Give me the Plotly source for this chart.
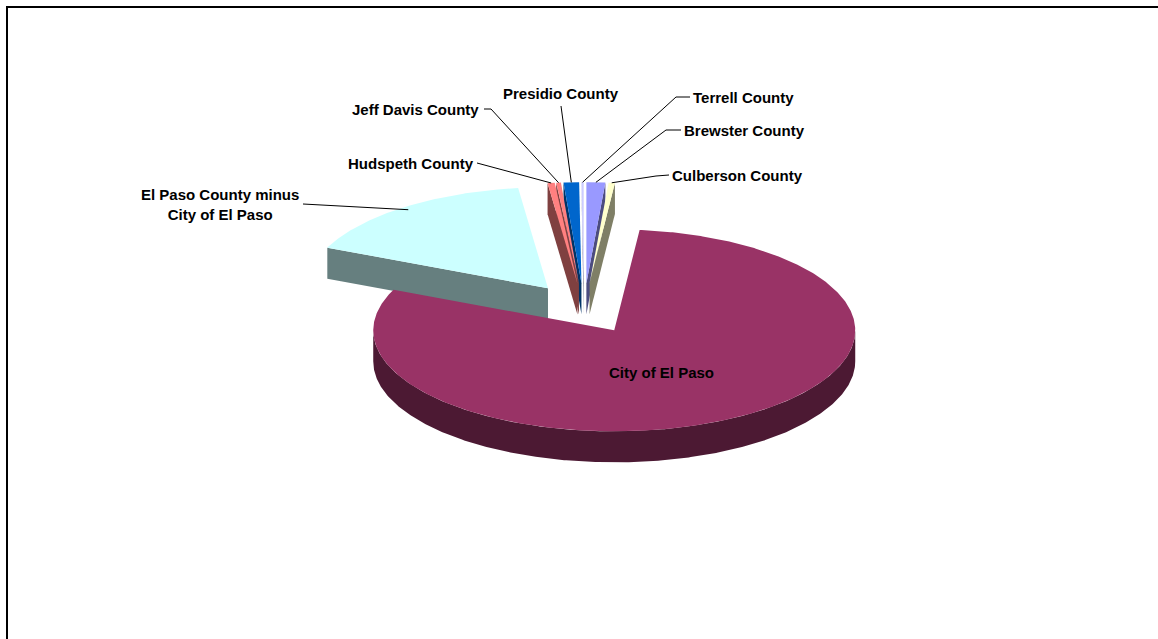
import numpy as np
import plotly.graph_objects as go

# Population by area (West Texas)
areas = [
    "Brewster County",
    "Culberson County",
    "City of El Paso",
    "El Paso County minus City of El Paso",
    "Hudspeth County",
    "Jeff Davis County",
    "Presidio County",
    "Terrell County",
]
population = [8866, 2975, 563662, 115960, 3344, 2207, 7304, 1081]
slice_colors = ["#9999FF", "#FFFFCC", "#993366", "#CCFFFF",
                "#FF8080", "#FF8080", "#0066CC", "#CCCCFF"]
label_text = [
    "Brewster County",
    "Culberson County",
    "City of El Paso",
    "El Paso County minus<br>City of El Paso",
    "Hudspeth County",
    "Jeff Davis County",
    "Presidio County",
    "Terrell County",
]

W, H = 1158, 639

# 3-D pie geometry (pixel space)
CX, CY = 584.0, 308.5
RX, RY = 241.0, 101.0
DEPTH = 31.0
EXPLODE = 0.25

# label placement: text centre, leader polyline start (+ optional elbow), leader radius fraction
label_style = {
    "Brewster County": dict(pos=(744, 130), lead=[(681, 130), (666, 130)], frac=1.0),
    "Culberson County": dict(pos=(737, 175), lead=[(669, 175), (656, 176)], frac=1.0),
    "City of El Paso": dict(pos=(661, 372), lead=None, frac=None),
    "El Paso County minus City of El Paso": dict(pos=(220, 204), lead=[(303, 204)], frac=0.97),
    "Hudspeth County": dict(pos=(411, 163), lead=[(477, 163)], frac=1.0),
    "Jeff Davis County": dict(pos=(415, 109), lead=[(484, 109), (491, 109)], frac=1.0),
    "Presidio County": dict(pos=(561, 93), lead=[(561, 106)], frac=1.0),
    "Terrell County": dict(pos=(743, 97), lead=[(690, 97), (676, 97)], frac=1.0),
}


def shade(hex_color, k=0.5):
    h = hex_color.lstrip("#")
    r, g, b = (int(h[i:i + 2], 16) for i in (0, 2, 4))
    return "rgb({},{},{})".format(int(r * k), int(g * k), int(b * k))


def point(theta, r, ox, oy, dz=0.0):
    t = np.radians(theta)
    return ox + r * RX * np.sin(t), oy - r * RY * np.cos(t) + dz


def arc(t1, t2, ox, oy, dz=0.0):
    n = max(2, int(np.ceil(abs(t2 - t1) / 0.5)) + 1)
    ts = np.linspace(t1, t2, n)
    xs, ys = point(ts, 1.0, ox, oy, dz)
    return list(xs), list(ys)


total = float(sum(population))
bounds = np.concatenate([[0.0], np.cumsum(population) / total * 360.0])

slices = []
for i, name in enumerate(areas):
    t1, t2 = bounds[i], bounds[i + 1]
    mid = 0.5 * (t1 + t2)
    ox, oy = point(mid, EXPLODE, CX, CY)
    slices.append(dict(name=name, t1=t1, t2=t2, mid=mid, ox=ox, oy=oy,
                       color=slice_colors[i], text=label_text[i]))

fig = go.Figure()


def poly(xs, ys, color):
    fig.add_trace(go.Scatter(
        x=list(xs) + [xs[0]], y=list(ys) + [ys[0]], mode="lines",
        fill="toself", fillcolor=color, line=dict(width=0),
        hoverinfo="skip", showlegend=False))


# paint from back to front
for s in sorted(slices, key=lambda s: -np.cos(np.radians(s["mid"]))):
    ox, oy, t1, t2 = s["ox"], s["oy"], s["t1"], s["t2"]
    side = shade(s["color"])
    # radial cut faces
    for theta, visible in ((t1, np.sin(np.radians(t1)) < -1e-6),
                           (t2, np.sin(np.radians(t2)) > 1e-6)):
        if visible:
            ex, ey = point(theta, 1.0, ox, oy)
            poly([ox, ex, ex, ox], [oy, ey, ey + DEPTH, oy + DEPTH], side)
    # outer rim on the front half
    a, b = max(t1, 90.0), min(t2, 270.0)
    if b > a:
        tx, ty = arc(a, b, ox, oy)
        bx, by = arc(b, a, ox, oy, DEPTH)
        poly(tx + bx, ty + by, side)
    # top surface
    tx, ty = arc(t1, t2, ox, oy)
    poly([ox] + tx, [oy] + ty, s["color"])

# labels and leader lines
for s in slices:
    st = label_style[s["name"]]
    fig.add_annotation(x=st["pos"][0], y=st["pos"][1], text="<b>" + s["text"] + "</b>",
                       showarrow=False, xanchor="center", yanchor="middle",
                       font=dict(family="Liberation Sans, Arial", size=15, color="black"))
    if st["lead"]:
        ex, ey = point(s["mid"], st["frac"], s["ox"], s["oy"])
        pts = st["lead"] + [(ex, ey)]
        fig.add_trace(go.Scatter(
            x=[p[0] for p in pts], y=[p[1] for p in pts], mode="lines",
            line=dict(color="black", width=1), hoverinfo="skip", showlegend=False))

# chart area frame
fig.add_shape(type="rect", xref="paper", yref="paper",
              x0=7 / W, y0=1 - 7 / H, x1=1.1, y1=-0.1,
              line=dict(color="black", width=2), fillcolor="rgba(0,0,0,0)")

fig.update_layout(
    width=W, height=H,
    margin=dict(l=0, r=0, t=0, b=0),
    paper_bgcolor="white", plot_bgcolor="white",
    xaxis=dict(range=[0, W], visible=False, fixedrange=True),
    yaxis=dict(range=[H, 0], visible=False, fixedrange=True),
    showlegend=False,
)

fig.write_html("out.html")
